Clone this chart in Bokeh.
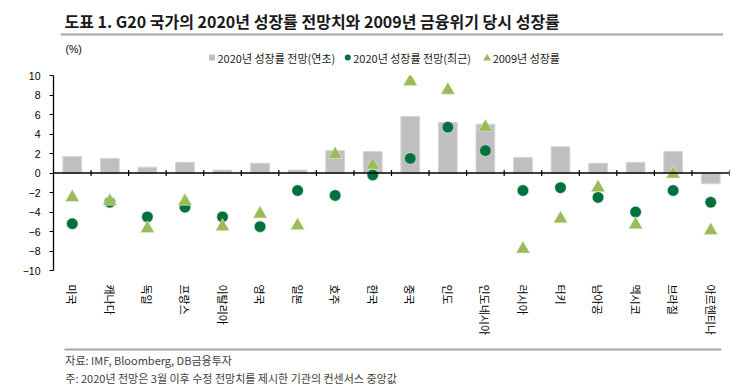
from bokeh.plotting import figure
from bokeh.layouts import column
from bokeh.models import FactorRange, Range1d, FixedTicker, Span
from bokeh.core.properties import value
from bokeh.embed import file_html
from bokeh.resources import INLINE

categories = ["미국", "캐나다", "독일", "프랑스", "이탈리아", "영국", "일본", "호주", "한국",
              "중국", "인도", "인도네시아", "러시아", "터키", "남아공", "멕시코", "브라질", "아르헨티나"]
forecast_early = [1.7, 1.5, 0.6, 1.1, 0.3, 1.0, 0.3, 2.3, 2.2, 5.8, 5.2, 5.0, 1.6, 2.7, 1.0, 1.1, 2.2, -1.1]
forecast_recent = [-5.2, -3.0, -4.5, -3.5, -4.5, -5.5, -1.8, -2.3, -0.2, 1.5, 4.7, 2.3, -1.8, -1.5, -2.5, -4.0, -1.8, -3.0]
growth_2009 = [-2.5, -2.9, -5.7, -2.9, -5.5, -4.2, -5.4, 1.9, 0.8, 9.4, 8.5, 4.7, -7.8, -4.7, -1.5, -5.3, -0.1, -5.9]
y_ticks = list(range(-10, 11, 2))

title_text = "도표 1. G20 국가의 2020년 성장률 전망치와 2009년 금융위기 당시 성장률"
legend_labels = ["2020년 성장률 전망(연초)", "2020년 성장률 전망(최근)", "2009년 성장률"]
source_text = "자료: IMF, Bloomberg, DB금융투자"
note_text = "주: 2020년 전망은 3월 이후 수정 전망치를 제시한 기관의 컨센서스 중앙값"

KR = "Noto Sans CJK KR"
BAR_C = "#BFBFBF"
DOT_C = "#00703C"
TRI_C = "#9BBB59"

W = 742
HEAD_H = 68
CHART_H = 270
FOOT_H = 54


def blank(height):
    f = figure(width=W, height=height, x_range=Range1d(0, W), y_range=Range1d(height, 0),
               x_axis_type=None, y_axis_type=None, output_backend="svg", toolbar_location=None,
               min_border=0, min_border_left=0, min_border_right=0, min_border_top=0, min_border_bottom=0)
    f.outline_line_color = None
    f.xgrid.visible = False
    f.ygrid.visible = False
    return f


# ---------------- header ----------------
head = blank(HEAD_H)
head.text(x=[12], y=[20], text=[title_text], text_font=value(KR), text_font_size="16px",
          text_font_style="bold", text_color="#1A1A1A", text_baseline="middle", text_align="left")
head.segment(x0=[8], y0=[34], x1=[735], y1=[34], line_color="#A6A6A6", line_width=2)
head.text(x=[22], y=[48], text=["(%)"], text_font=value("Liberation Sans"), text_font_size="10.5px",
          text_color="black", text_baseline="middle", text_align="center")
leg_y = 57
head.scatter(x=[174], y=[leg_y], marker="square", size=6, fill_color=BAR_C, line_color=None)
head.scatter(x=[323], y=[leg_y], marker="circle", size=6, fill_color=DOT_C, line_color=None)
head.scatter(x=[476], y=[leg_y + 0.8], marker="triangle", size=8, fill_color=TRI_C, line_color=None)
head.text(x=[180, 329, 482], y=[leg_y] * 3, text=legend_labels, text_font=value(KR),
          text_font_size="11px", text_color="#222222", text_baseline="middle", text_align="left")

# ---------------- chart ----------------
p = figure(width=W, height=CHART_H,
           x_range=FactorRange(factors=categories, range_padding=0),
           y_range=Range1d(-10, 10),
           output_backend="svg", toolbar_location=None,
           min_border_left=53, min_border_right=13, min_border_top=7, min_border_bottom=63)
p.outline_line_color = None
p.xgrid.grid_line_color = None
p.ygrid.grid_line_color = None

p.yaxis.ticker = FixedTicker(ticks=y_ticks)
p.yaxis.minor_tick_line_color = None
p.yaxis.major_tick_in = 0
p.yaxis.major_tick_out = 4
p.yaxis.axis_line_color = "black"
p.yaxis.axis_line_width = 1.3
p.yaxis.major_tick_line_color = "black"
p.yaxis.major_label_standoff = 9
p.yaxis.major_label_text_font = "Liberation Sans"
p.yaxis.major_label_text_font_size = "10.5px"
p.yaxis.major_label_text_color = "black"

p.xaxis.axis_line_color = None
p.xaxis.major_tick_line_color = None
p.xaxis.minor_tick_line_color = None
p.xaxis.major_label_orientation = "vertical"
p.xaxis.major_label_standoff = 8
p.xaxis.major_label_text_font = KR
p.xaxis.major_label_text_font_size = "11px"
p.xaxis.major_label_text_color = "black"

p.vbar(x=categories, top=forecast_early, bottom=0, width=0.5, fill_color=BAR_C,
       line_color="#D6D6D6", line_width=1)

p.add_layout(Span(location=0, dimension="width", line_color="black", line_width=1.5))
boundaries = list(range(1, len(categories) + 1))
p.segment(x0=boundaries, y0=[-0.3] * len(boundaries), x1=boundaries, y1=[0.3] * len(boundaries),
          line_color="black", line_width=1.2)

p.scatter(x=categories, y=forecast_recent, marker="circle", size=11.5,
          fill_color=DOT_C, line_color="#D8E8DC", line_width=0.6)
p.scatter(x=categories, y=growth_2009, marker="triangle", size=14,
          fill_color=TRI_C, line_color="#E4EDD3", line_width=0.6)

# ---------------- footer ----------------
foot = blank(FOOT_H)
foot.segment(x0=[12], y0=[11], x1=[733], y1=[11], line_color="#A6A6A6", line_width=2)
foot.text(x=[13, 13], y=[21, 39], text=[source_text, note_text], text_font=value(KR),
          text_font_size="11px", text_color="#404040", text_baseline="middle", text_align="left")

layout = column(head, p, foot, spacing=0)
open("out.html", "w").write(file_html(layout, INLINE))
